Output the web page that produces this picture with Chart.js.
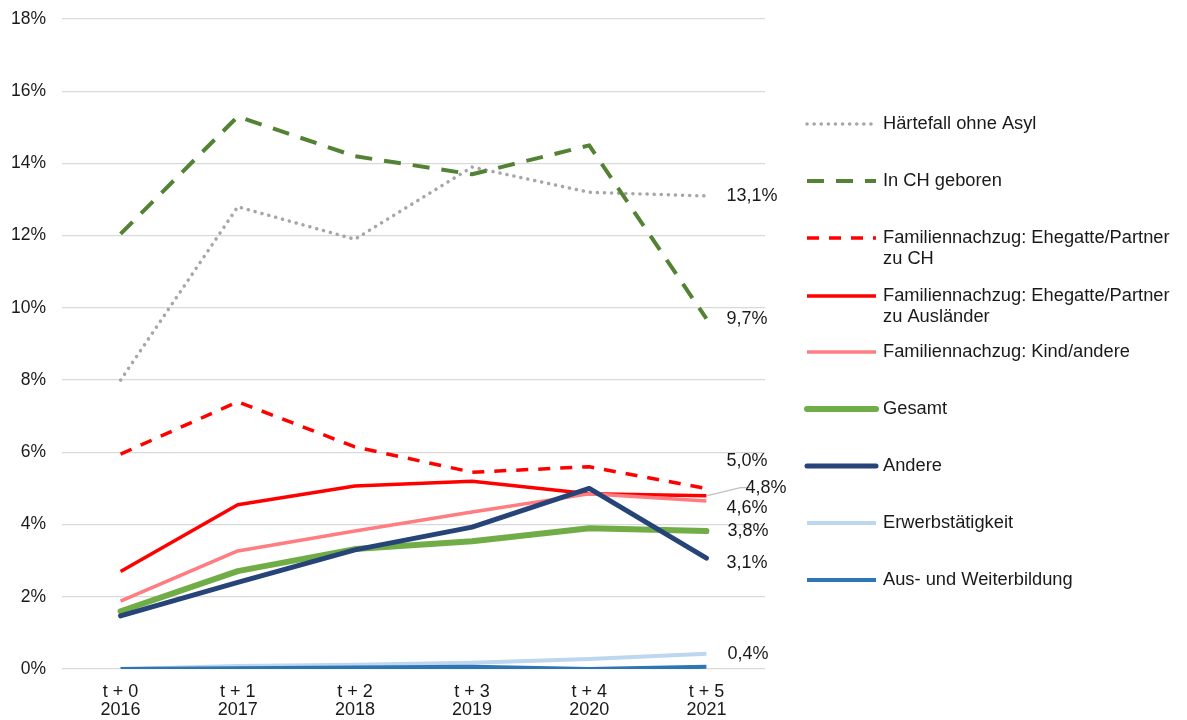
<!DOCTYPE html>
<html>
<head>
<meta charset="utf-8">
<script src="https://cdn.jsdelivr.net/npm/chart.js@4"></script>
<style>
  body { margin: 0; background: #fff; }
  #c { display: block; }
</style>
</head>
<body>
<canvas id="c" width="1187" height="720"></canvas>
<script>
'use strict';
// categories
let periods = ['t + 0', 't + 1', 't + 2', 't + 3', 't + 4', 't + 5'];
let years = ['2016', '2017', '2018', '2019', '2020', '2021'];
let yTicks = [0, 2, 4, 6, 8, 10, 12, 14, 16, 18];

// series values (in %)
let haertefall = [8.0, 12.8, 11.9, 13.9, 13.2, 13.1];
let inChGeboren = [12.05, 15.3, 14.2, 13.7, 14.5, 9.7];
let famCH = [5.95, 7.4, 6.15, 5.45, 5.6, 5.0];
let famAusl = [2.7, 4.55, 5.07, 5.2, 4.85, 4.8];
let famKind = [1.88, 3.27, 3.82, 4.35, 4.85, 4.65];
let gesamt = [1.6, 2.71, 3.32, 3.54, 3.9, 3.82];
let andere = [1.47, 2.4, 3.3, 3.93, 5.0, 3.07];
let erwerb = [0.0, 0.08, 0.12, 0.17, 0.28, 0.42];
let ausbildung = [0.0, 0.02, 0.04, 0.06, 0.0, 0.06];

let FONT = '"Liberation Sans", Arial, sans-serif';

function ds(label, data, color, width, dash, order, cap) {
    return {
        label: label,
        data: data,
        borderColor: color,
        backgroundColor: color,
        borderWidth: width,
        borderDash: dash,
        borderCapStyle: cap || 'butt',
        borderJoinStyle: 'round',
        pointRadius: 0,
        tension: 0,
        order: order
    };
}

let datasets = [
    ds('Härtefall ohne Asyl', haertefall, '#a6a6a6', 3.5, [0.1, 7], 9, 'round'),
    ds('In CH geboren', inChGeboren, '#548235', 4, [17, 12], 8),
    ds(['Familiennachzug: Ehegatte/Partner', 'zu CH'], famCH, '#ff0000', 3.5, [12, 10], 7),
    ds(['Familiennachzug: Ehegatte/Partner', 'zu Ausländer'], famAusl, '#ff0000', 3.5, [], 6),
    ds('Familiennachzug: Kind/andere', famKind, '#ff7c80', 3.5, [], 5),
    ds('Gesamt', gesamt, '#70ad47', 6, [], 4, 'round'),
    ds('Andere', andere, '#264478', 5, [], 1, 'round'),
    ds('Erwerbstätigkeit', erwerb, '#bdd7ee', 4, [], 3),
    ds('Aus- und Weiterbildung', ausbildung, '#2e75b6', 4, [], 2)
];

// value labels next to the last point
let endLabelPlugin = {
    id: 'endLabels',
    afterDatasetsDraw(chart) {
        let ctx = chart.ctx;
        let xs = chart.scales.x;
        let ys = chart.scales.y;
        let x = xs.getPixelForValue(5);
        ctx.save();
        ctx.font = '18px ' + FONT;
        ctx.fillStyle = '#1a1a1a';
        ctx.textBaseline = 'middle';
        ctx.textAlign = 'left';
        ctx.fillText('13,1%', x + 20, ys.getPixelForValue(haertefall[5]));
        ctx.fillText('9,7%', x + 20, ys.getPixelForValue(inChGeboren[5]));
        ctx.fillText('5,0%', x + 20, ys.getPixelForValue(famCH[5]) - 27);
        ctx.fillText('4,6%', x + 20, ys.getPixelForValue(famKind[5]) + 7);
        ctx.fillText('3,8%', x + 21, ys.getPixelForValue(gesamt[5]));
        ctx.fillText('3,1%', x + 20, ys.getPixelForValue(andere[5]) + 5);
        ctx.fillText('0,4%', x + 21, ys.getPixelForValue(erwerb[5]));
        // leader line for 4,8%
        let y48 = ys.getPixelForValue(famAusl[5]);
        ctx.strokeStyle = '#bfbfbf';
        ctx.lineWidth = 1.2;
        ctx.beginPath();
        ctx.moveTo(x + 1, y48);
        ctx.lineTo(x + 34, y48 - 8);
        ctx.lineTo(x + 44, y48 - 8);
        ctx.stroke();
        ctx.fillText('4,8%', x + 39, y48 - 8);
        ctx.restore();
    }
};

// legend on the right
let sideLegend = {
    id: 'sideLegend',
    afterDraw(chart) {
        let ctx = chart.ctx;
        let rows = [124, 181, 238, 296, 352, 409, 466, 523, 580];
        ctx.save();
        ctx.font = '18.3px ' + FONT;
        ctx.fillStyle = '#1a1a1a';
        ctx.textBaseline = 'middle';
        for (let i = 0; i < datasets.length; i++) {
            let d = datasets[i];
            let y = rows[i];
            ctx.strokeStyle = d.borderColor;
            ctx.lineWidth = d.borderWidth;
            ctx.setLineDash(d.borderDash);
            ctx.lineCap = d.borderCapStyle;
            ctx.beginPath();
            ctx.moveTo(807, y);
            ctx.lineTo(876, y);
            ctx.stroke();
            ctx.setLineDash([]);
            let lines = Array.isArray(d.label) ? d.label : [d.label];
            for (let j = 0; j < lines.length; j++) {
                ctx.fillText(lines[j], 883, y + j * 20.5);
            }
        }
        ctx.restore();
    }
};

let chartEl = document.getElementById('c').getContext('2d');
let myChart = new Chart(chartEl, {
    type: 'line',
    data: {
        labels: periods.map((p, i) => [p, years[i]]),
        datasets: datasets
    },
    options: {
        responsive: false,
        animation: false,
        layout: { padding: { top: 19, right: 422, bottom: 0, left: 0 } },
        plugins: {
            legend: { display: false },
            tooltip: { enabled: false }
        },
        scales: {
            x: {
                offset: true,
                grid: { display: false },
                border: { display: false },
                ticks: {
                    color: '#1a1a1a',
                    font: { family: FONT, size: 18, lineHeight: 1.0 },
                    padding: 6,
                    maxRotation: 0
                },
                afterFit(scale) { scale.height = 51; }
            },
            y: {
                min: 0,
                max: 18,
                afterBuildTicks(scale) { scale.ticks = yTicks.map(v => ({ value: v })); },
                grid: { color: '#d9d9d9', lineWidth: 1.3, drawTicks: false },
                border: { display: false },
                ticks: {
                    color: '#1a1a1a',
                    font: { family: FONT, size: 17.5 },
                    padding: 16,
                    callback: v => v + '%'
                },
                afterFit(scale) {
                    scale.width = 62;
                    scale.paddingTop = 0;
                    scale.paddingBottom = 0;
                }
            }
        }
    },
    plugins: [endLabelPlugin, sideLegend]
});
</script>
</body>
</html>
